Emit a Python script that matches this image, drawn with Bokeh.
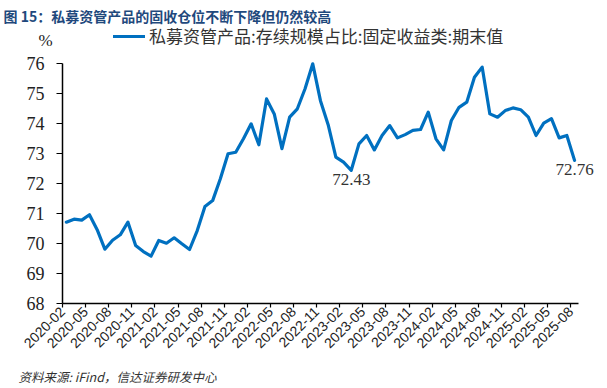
import numpy as np
from bokeh.plotting import figure
from bokeh.models import Range1d, FixedTicker, Label, Legend, LegendItem
from bokeh.embed import file_html
from bokeh.resources import INLINE

# ---- data ----
tick_labels = ["2020-02", "2020-05", "2020-08", "2020-11", "2021-02", "2021-05",
               "2021-08", "2021-11", "2022-02", "2022-05", "2022-08", "2022-11",
               "2023-02", "2023-05", "2023-08", "2023-11", "2024-02", "2024-05",
               "2024-08", "2024-11", "2025-02", "2025-05", "2025-08"]
series_name = "私募资管产品:存续规模占比:固定收益类:期末值"
values = [70.70, 70.80, 70.77, 70.95, 70.45, 69.80, 70.10, 70.28, 70.70, 69.92,
          69.72, 69.57, 70.09, 70.00, 70.18, 69.98, 69.79, 70.42, 71.22, 71.42,
          72.15, 72.98, 73.03, 73.48, 73.98, 73.28, 74.81, 74.31, 73.15, 74.20,
          74.48, 75.15, 75.98, 74.75, 73.95, 72.87, 72.70, 72.43, 73.31, 73.59,
          73.11, 73.59, 73.92, 73.51, 73.62, 73.76, 73.79, 74.37, 73.48, 73.11,
          74.09, 74.53, 74.70, 75.53, 75.87, 74.31, 74.20, 74.42, 74.51, 74.45,
          74.20, 73.59, 74.00, 74.15, 73.51, 73.59, 72.76]
annotated_idx = [37, 66]
y_ticks = [68, 69, 70, 71, 72, 73, 74, 75, 76]

n = len(values)
xs = np.arange(n) + 0.5          # category centres (between tick marks)
tick_pos = list(range(0, n, 3))

# ---- layout (pixel geometry of the page) ----
W, H = 607, 388
X0_PX, PX_PER_CAT = 62.0, 7.7      # left edge of category axis, px per category
Y68_PX, PX_PER_UNIT = 302.7, 30.0  # pixel row of y=68, px per unit

def px_to_x(px):
    return (px - X0_PX) / PX_PER_CAT

def py_to_y(py):
    return 68 + (Y68_PX - py) / PX_PER_UNIT

p = figure(width=W, height=H, output_backend="svg", toolbar_location=None,
           x_range=Range1d(px_to_x(0), px_to_x(W)),
           y_range=Range1d(py_to_y(H), py_to_y(0)),
           min_border=0, min_border_left=0, min_border_right=0,
           min_border_top=0, min_border_bottom=0)
p.outline_line_color = None
p.grid.visible = False
p.background_fill_color = "white"
p.border_fill_color = "white"

line_color = "#0070C0"
r = p.line(xs, values, line_color=line_color, line_width=3.2, line_join="round",
           line_cap="round")

# axes (fixed at the data origin so the frame can hold all texts)
xa = p.xaxis[0]
xa.fixed_location = 68
xa.bounds = (0, n)
xa.ticker = FixedTicker(ticks=tick_pos)
xa.major_label_overrides = {t: lab for t, lab in zip(tick_pos, tick_labels)}
xa.major_label_orientation = np.pi / 4
xa.axis_line_color = "black"
xa.axis_line_width = 1.5
xa.major_tick_line_color = "black"
xa.major_tick_line_width = 1.2
xa.major_tick_out = 4
xa.major_tick_in = 0
xa.minor_tick_line_color = None
xa.major_label_text_font = "Liberation Sans"
xa.major_label_text_font_size = "14px"
xa.major_label_text_color = "#222222"
xa.major_label_standoff = 2

ya = p.yaxis[0]
ya.fixed_location = 0
ya.ticker = FixedTicker(ticks=y_ticks)
ya.bounds = (68, 76)
ya.axis_line_color = "black"
ya.axis_line_width = 1.5
ya.major_tick_line_color = "black"
ya.major_tick_line_width = 1.2
ya.major_tick_out = 6
ya.major_tick_in = 0
ya.minor_tick_line_color = None
ya.major_label_text_font = "Liberation Serif"
ya.major_label_text_font_size = "18px"
ya.major_label_text_color = "#222222"
ya.major_label_standoff = 12

# legend
legend = Legend(items=[LegendItem(label=series_name, renderers=[r])],
                location=(113, H - 48), orientation="horizontal",
                glyph_width=32, glyph_height=16, label_height=16,
                label_standoff=4, padding=0, margin=0, spacing=0,
                border_line_color=None, background_fill_alpha=0,
                label_text_font="Noto Sans CJK SC", label_text_font_size="17px",
                label_text_color="#333333")
p.add_layout(legend)

# title
p.add_layout(Label(x=px_to_x(3), y=py_to_y(15), text="图 15：私募资管产品的固收仓位不断下降但仍然较高",
                   text_font="Noto Sans CJK SC", text_font_size="14px",
                   text_font_style="bold", text_color="#1F497D",
                   text_align="left", text_baseline="middle"))
# unit
p.add_layout(Label(x=px_to_x(45), y=py_to_y(40), text="%",
                   text_font="Liberation Serif", text_font_size="17px",
                   text_color="#222222", text_align="center", text_baseline="middle"))
# data labels
for i in annotated_idx:
    p.add_layout(Label(x=xs[i], y=values[i], y_offset=-4, text=f"{values[i]:.2f}",
                       text_font="Liberation Serif", text_font_size="17px",
                       text_color="#333333", text_align="center", text_baseline="top"))
# source
p.add_layout(Label(x=px_to_x(18), y=py_to_y(376), text="资料来源: iFind，信达证券研发中心",
                   text_font="Noto Sans CJK SC", text_font_size="12.5px",
                   text_font_style="italic", text_color="#333333",
                   text_align="left", text_baseline="middle"))

open("out.html", "w").write(file_html(p, INLINE))
